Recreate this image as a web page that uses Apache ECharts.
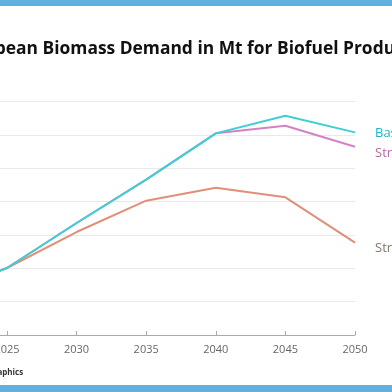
<!DOCTYPE html>
<html><head><meta charset="utf-8">
<script src="https://cdn.jsdelivr.net/npm/echarts@6/dist/echarts.min.js"></script>
<style>html,body{margin:0;padding:0;background:#fff}#c{width:392px;height:392px}</style>
</head><body><div id="c"></div>
<script>
const years = [2020, 2025, 2030, 2035, 2040, 2045, 2050];
const tickYears = [2025, 2030, 2035, 2040, 2045, 2050];
const baseline = [12, 20.1, 33.6, 46.6, 60.5, 65.8, 60.8];
const strategyA = [12, 20.1, 33.6, 46.6, 60.5, 62.8, 56.5];
const strategyB = [12, 20.1, 30.9, 40.3, 44.2, 41.3, 27.7];
const seriesNames = ['Baseline', 'Strategy A', 'Strategy B'];
const titleText = 'European Biomass Demand in Mt for Biofuel Production';
const sourceText = 'Graphics';

const chart = echarts.init(document.getElementById('c'));
const pair = arr => years.map((y, i) => [y, arr[i]]);
function mk(name, data, color, labelColor, dy) {
  return {
    name, type: 'line', data: pair(data), symbol: 'none', smooth: false, clip: true,
    lineStyle: {color, width: 2}, itemStyle: {color},
    endLabel: {show: true, formatter: name, color: labelColor, fontSize: 13,
      fontFamily: 'Open Sans', distance: 20, offset: [0, dy]}
  };
}
chart.setOption({
  animation: false,
  title: {text: titleText, left: -50, top: 36,
    textStyle: {fontSize: 17.4, fontWeight: 'bold', color: '#111', fontFamily: 'Open Sans'}},
  grid: {left: 0, right: 37, top: 101.7, bottom: 57, containLabel: false, outerBoundsMode: 'none'},
  xAxis: {type: 'value', min: 2024.5, max: 2050,
    axisLine: {show: true, lineStyle: {color: '#aaa', width: 1}},
    axisTick: {show: true, length: 4, inside: true, customValues: tickYears, lineStyle: {color: '#aaa'}},
    splitLine: {show: false},
    axisLabel: {color: '#666', fontSize: 11, margin: 9, fontFamily: 'Open Sans',
      customValues: tickYears, formatter: v => String(v)}},
  yAxis: {type: 'value', min: 0, max: 70, interval: 10,
    axisLine: {show: false}, axisTick: {show: false},
    axisLabel: {show: false},
    splitLine: {lineStyle: {color: '#e9e9e9', width: 1}}},
  series: [
    mk(seriesNames[2], strategyB, '#e08f78', '#85746a', 6),
    mk(seriesNames[1], strategyA, '#d482c6', '#b56aa8', 7),
    mk(seriesNames[0], baseline, '#3ccfd3', '#1cb4c6', 1)
  ],
  graphic: [
    {type: 'rect', left: 0, top: 0, shape: {width: 392, height: 6}, style: {fill: '#62b0e0'}},
    {type: 'rect', left: 0, top: 385, shape: {width: 392, height: 7}, style: {fill: '#62b0e0'}},
    {type: 'text', left: -12, top: 369, style: {text: sourceText, fontSize: 8, fontWeight: 'bold', fill: '#333', fontFamily: 'Open Sans'}}
  ]
});
</script></body></html>
